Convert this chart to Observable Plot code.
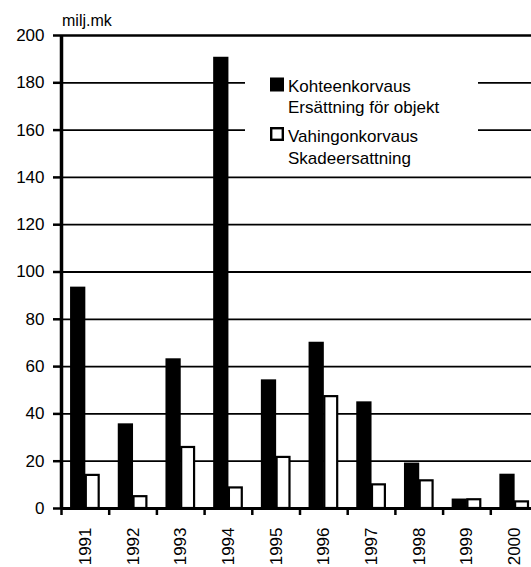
<!DOCTYPE html>
<html><head><meta charset="utf-8">
<script src="https://cdn.jsdelivr.net/npm/d3@7"></script>
<script src="https://cdn.jsdelivr.net/npm/@observablehq/plot@0.6"></script>
<style>body{margin:0;background:#fff} svg{display:block}</style>
</head><body><div id="chart"></div>
<script>
const years = [1991, 1992, 1993, 1994, 1995, 1996, 1997, 1998, 1999, 2000];
const kohteenkorvaus = [93.6, 35.8, 63.3, 190.8, 54.4, 70.3, 45.1, 19.2, 4.0, 14.5];
const vahingonkorvaus = [14.0, 5.0, 25.8, 8.7, 21.6, 47.3, 10.0, 11.7, 3.7, 2.8];
const yTicks = [0, 20, 40, 60, 80, 100, 120, 140, 160, 180, 200];
const seriesLabels = [["Kohteenkorvaus", "Ersättning för objekt"], ["Vahingonkorvaus", "Skadeersattning"]];
const yUnit = "milj.mk";

const data = years.flatMap((yr, i) => [
  {year: yr, series: 0, value: kohteenkorvaus[i]},
  {year: yr, series: 1, value: vahingonkorvaus[i]}
]);
const boundaries = years.map(y => y - 0.5);

const font = "'Liberation Sans', Arial, Helvetica, sans-serif";
const BW = 0.30;

const plot = Plot.plot({
  width: 531, height: 567,
  marginLeft: 61, marginRight: 0, marginTop: 35, marginBottom: 59,
  style: {fontFamily: font, fontSize: "17px", background: "#fff", color: "#000", overflow: "visible"},
  x: {type: "linear", domain: [1990.5, 2000.5], range: [61, 538], axis: null},
  y: {domain: [0, 200], axis: null},
  marks: [
    Plot.ruleY(yTicks.filter(d => d > 0 && d < 200), {y: d => d, stroke: "#000", strokeWidth: 1.8}),
    Plot.ruleY([200], {stroke: "#000", strokeWidth: 2.4}),
    Plot.rectY(data.filter(d => d.series === 0), {
      x1: d => d.year - BW - 0.01, x2: d => d.year + 0.01, y1: 0, y2: "value", fill: "#000"
    }),
    Plot.rectY(data.filter(d => d.series === 1), {
      x1: d => d.year + 0.02, x2: d => d.year + BW - 0.01, y1: 0, y2: "value",
      fill: "#fff", stroke: "#000", strokeWidth: 2.2
    }),
    Plot.ruleY([0], {stroke: "#000", strokeWidth: 3}),
    Plot.ruleX([1990.5], {y1: 0, y2: 200, stroke: "#000", strokeWidth: 3.5}),
    Plot.axisY({ticks: yTicks, tickSize: 8, tickPadding: 9, tickFormat: d => String(d),
      strokeWidth: 2.5, fontSize: 17, label: null}),
    Plot.axisX({ticks: boundaries, tickSize: 7, tickFormat: () => "", strokeWidth: 2.5, label: null}),
    Plot.text(years, {x: d => d, y: 0, text: d => String(d), rotate: -90,
      textAnchor: "end", lineAnchor: "middle", dy: 19, fontSize: 17, fill: "#000"})
  ]
});

const svg = d3.select(plot);
svg.append("text").attr("x", 62).attr("y", 26).attr("font-size", 16).attr("text-anchor", "start")
  .attr("font-family", font).attr("fill", "#000").text(yUnit);

const lg = svg.append("g").attr("font-family", font).attr("font-size", 17)
  .attr("fill", "#000").attr("text-anchor", "start");
lg.append("rect").attr("x", 245).attr("y", 64).attr("width", 233).attr("height", 106).attr("fill", "#fff");
lg.append("rect").attr("x", 270).attr("y", 77.5).attr("width", 14).attr("height", 14).attr("fill", "#000");
lg.append("rect").attr("x", 271.2).attr("y", 128.2).attr("width", 11.6).attr("height", 11.6)
  .attr("fill", "#fff").attr("stroke", "#000").attr("stroke-width", 2.4);
const baselines = [[92, 113], [142, 164]];
seriesLabels.forEach((lines, s) => {
  lines.forEach((t, j) => {
    lg.append("text").attr("x", 288).attr("y", baselines[s][j]).attr("text-anchor", "start").text(t);
  });
});

document.getElementById("chart").appendChild(plot);
</script>
</body></html>
